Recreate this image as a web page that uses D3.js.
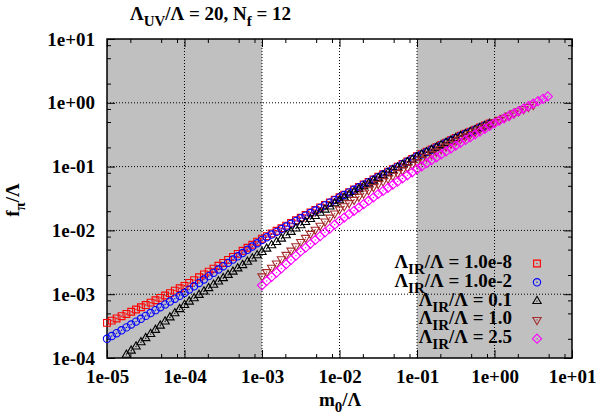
<!DOCTYPE html>
<html>
<head>
<meta charset="utf-8">
<script src="https://cdn.jsdelivr.net/npm/d3@7"></script>
<style>
body { margin: 0; background: #fff; }
svg { display: block; font-family: "Liberation Serif", "Times New Roman", serif; font-weight: bold; }
</style>
</head>
<body>
<svg id="chart" width="597" height="415"></svg>
<script>
// m0/Lambda sample points (16 per decade) shared by all runs
var m0Grid = [
  1.00e-5,1.15e-5,1.33e-5,1.54e-5,1.78e-5,2.05e-5,2.37e-5,2.74e-5,3.16e-5,3.65e-5,4.22e-5,4.87e-5,5.62e-5,6.49e-5,7.50e-5,8.66e-5,
  1.00e-4,1.15e-4,1.33e-4,1.54e-4,1.78e-4,2.05e-4,2.37e-4,2.74e-4,3.16e-4,3.65e-4,4.22e-4,4.87e-4,5.62e-4,6.49e-4,7.50e-4,8.66e-4,
  1.00e-3,1.15e-3,1.33e-3,1.54e-3,1.78e-3,2.05e-3,2.37e-3,2.74e-3,3.16e-3,3.65e-3,4.22e-3,4.87e-3,5.62e-3,6.49e-3,7.50e-3,8.66e-3,
  1.00e-2,1.15e-2,1.33e-2,1.54e-2,1.78e-2,2.05e-2,2.37e-2,2.74e-2,3.16e-2,3.65e-2,4.22e-2,4.87e-2,5.62e-2,6.49e-2,7.50e-2,8.66e-2,
  1.00e-1,1.15e-1,1.33e-1,1.54e-1,1.78e-1,2.05e-1,2.37e-1,2.74e-1,3.16e-1,3.65e-1,4.22e-1,4.87e-1,5.62e-1,6.49e-1,7.50e-1,8.66e-1,
  1.00,1.15,1.33,1.54,1.78,2.05,2.37,2.74,3.16,3.65,4.22,4.87
];

// f_pi/Lambda for each Lambda_IR/Lambda
var fIR1e8 = [
  3.55e-4,3.85e-4,4.17e-4,4.52e-4,4.90e-4,5.31e-4,5.75e-4,6.24e-4,6.76e-4,7.37e-4,
  8.04e-4,8.76e-4,9.55e-4,1.04e-3,1.14e-3,1.24e-3,1.35e-3,1.50e-3,1.66e-3,1.84e-3,
  2.04e-3,2.26e-3,2.51e-3,2.79e-3,3.09e-3,3.45e-3,3.85e-3,4.29e-3,4.79e-3,5.34e-3,
  5.96e-3,6.65e-3,7.41e-3,8.15e-3,8.96e-3,9.86e-3,1.08e-2,1.19e-2,1.31e-2,1.44e-2,
  1.58e-2,1.74e-2,1.91e-2,2.09e-2,2.29e-2,2.51e-2,2.75e-2,3.02e-2,3.31e-2,3.63e-2,
  3.98e-2,4.37e-2,4.79e-2,5.25e-2,5.75e-2,6.31e-2,6.92e-2,7.59e-2,8.32e-2,9.12e-2,
  0.100,0.110,0.120,0.132,0.145,0.157,0.171,0.186,0.202,0.219,
  0.238,0.259,0.282,0.304,0.327,0.353,0.380,0.410,0.442,0.476
];
var fIR1e2 = [
  2.00e-4,2.21e-4,2.45e-4,2.72e-4,3.02e-4,3.35e-4,3.72e-4,4.12e-4,4.57e-4,5.07e-4,
  5.62e-4,6.24e-4,6.92e-4,7.67e-4,8.51e-4,9.44e-4,1.05e-3,1.18e-3,1.33e-3,1.50e-3,
  1.70e-3,1.92e-3,2.16e-3,2.44e-3,2.75e-3,3.10e-3,3.49e-3,3.93e-3,4.42e-3,4.97e-3,
  5.59e-3,6.29e-3,7.08e-3,7.81e-3,8.61e-3,9.49e-3,1.05e-2,1.15e-2,1.27e-2,1.40e-2,
  1.55e-2,1.70e-2,1.87e-2,2.05e-2,2.25e-2,2.47e-2,2.72e-2,2.98e-2,3.27e-2,3.59e-2,
  3.94e-2,4.33e-2,4.74e-2,5.20e-2,5.69e-2,6.25e-2,6.85e-2,7.51e-2,8.24e-2,9.03e-2,
  0.0990,0.109,0.119,0.131,0.144,0.155,0.169,0.184,0.200,0.217,
  0.236,0.256,0.279,0.301,0.324,0.349,0.376,0.406,0.438,0.471
];
var fIR01 = [
  1.12e-4,1.30e-4,1.51e-4,1.76e-4,2.04e-4,2.37e-4,2.75e-4,3.20e-4,3.72e-4,4.32e-4,
  5.01e-4,5.82e-4,6.76e-4,7.63e-4,8.61e-4,9.72e-4,1.10e-3,1.24e-3,1.40e-3,1.58e-3,
  1.78e-3,2.00e-3,2.25e-3,2.53e-3,2.85e-3,3.21e-3,3.61e-3,4.06e-3,4.57e-3,5.16e-3,
  5.82e-3,6.57e-3,7.41e-3,8.36e-3,9.44e-3,1.07e-2,1.20e-2,1.35e-2,1.50e-2,1.68e-2,
  1.88e-2,2.11e-2,2.36e-2,2.64e-2,2.95e-2,3.26e-2,3.61e-2,3.99e-2,4.42e-2,4.88e-2,
  5.40e-2,5.97e-2,6.61e-2,7.26e-2,7.99e-2,8.78e-2,9.66e-2,0.106,0.117,0.128,
  0.141,0.154,0.167,0.182,0.198,0.216,0.235,0.256,0.279,0.300,
  0.323,0.348,0.374,0.403,0.434,0.467
];
var fIR10 = [
  1.91e-3,2.23e-3,2.60e-3,3.04e-3,3.55e-3,4.15e-3,4.84e-3,5.65e-3,6.61e-3,7.65e-3,
  8.86e-3,1.03e-2,1.19e-2,1.38e-2,1.59e-2,1.85e-2,2.14e-2,2.40e-2,2.69e-2,3.02e-2,
  3.39e-2,3.80e-2,4.27e-2,4.79e-2,5.37e-2,5.92e-2,6.53e-2,7.20e-2,7.94e-2,8.76e-2,
  9.66e-2,0.107,0.117,0.129,0.142,0.156,0.172,0.189,0.208,0.229,
  0.251,0.274,0.299,0.325,0.355,0.387,0.422,0.460,0.501,0.542,
  0.585,0.633,0.684,0.739,0.799,0.863,0.933
];
var fIR25 = [
  1.38e-3,1.61e-3,1.87e-3,2.18e-3,2.54e-3,2.96e-3,3.45e-3,4.02e-3,4.68e-3,5.37e-3,
  6.17e-3,7.08e-3,8.13e-3,9.33e-3,1.07e-2,1.23e-2,1.41e-2,1.59e-2,1.80e-2,2.03e-2,
  2.29e-2,2.58e-2,2.92e-2,3.29e-2,3.72e-2,4.16e-2,4.65e-2,5.20e-2,5.82e-2,6.51e-2,
  7.29e-2,8.15e-2,9.12e-2,0.101,0.113,0.126,0.140,0.155,0.173,0.192,
  0.214,0.236,0.262,0.289,0.320,0.354,0.391,0.433,0.479,0.523,
  0.571,0.623,0.681,0.743,0.811,0.886,0.967,1.06,1.15,1.26
];
// index into m0Grid where each run starts
var seriesStart = [0, 0, 4, 32, 32];
var legendLabels = ['1.0e-8', '1.0e-2', '0.1', '1.0', '2.5'];

var xTicks = [1e-5, 1e-4, 1e-3, 1e-2, 1e-1, 1, 10];
var xTickLabels = ['1e-05', '1e-04', '1e-03', '1e-02', '1e-01', '1e+00', '1e+01'];
var yTicks = [1e-4, 1e-3, 1e-2, 1e-1, 1, 10];
var yTickLabels = ['1e-04', '1e-03', '1e-02', '1e-01', '1e+00', '1e+01'];
var minorMantissas = [2, 5, 8];
var shadedBands = [[1e-5, 1e-3], [1e-1, 10]];

var svg = d3.select('#chart');
var pLeft = 107, pRight = 572, pTop = 39, pBottom = 358;

var x = d3.scaleLog().domain([1e-5, 10]).range([pLeft, pRight]);
var y = d3.scaleLog().domain([1e-4, 10]).range([pBottom, pTop]);

function minorsOf(majors) {
    var out = [];
    majors.slice(0, -1).forEach(function(m){
        minorMantissas.forEach(function(k){ out.push(m * k); });
    });
    return out;
}

// shaded regions
svg.selectAll('rect.band')
    .data(shadedBands)
    .enter()
    .append('rect')
        .attr('class', 'band')
        .attr('x', function(d){ return x(d[0]); })
        .attr('y', pTop)
        .attr('width', function(d){ return x(d[1]) - x(d[0]); })
        .attr('height', pBottom - pTop)
        .attr('fill', '#c0c0c0');

// dotted grid
var grid = svg.append('g').attr('stroke', '#000').attr('stroke-width', 1).attr('stroke-dasharray', '1,2');
xTicks.slice(1, -1).forEach(function(t){
    grid.append('line').attr('x1', x(t)).attr('x2', x(t)).attr('y1', pTop).attr('y2', pBottom);
});
yTicks.slice(1, -1).forEach(function(t){
    grid.append('line').attr('x1', pLeft).attr('x2', pRight).attr('y1', y(t)).attr('y2', y(t));
});

// axes (inward ticks on all sides)
function styleAxis(g) {
    g.attr('font-family', null).attr('font-size', null);
    g.select('.domain').remove();
    g.selectAll('line').attr('stroke', '#000').attr('stroke-width', 1);
    g.selectAll('text').attr('fill', '#000').style('font-size', '19px');
}

svg.append('g')
    .attr('transform', 'translate(0,' + pBottom + ')')
    .call(d3.axisBottom(x).tickValues(xTicks).tickFormat(function(d, i){ return xTickLabels[i]; })
        .tickSizeInner(-8).tickSizeOuter(0).tickPadding(12))
    .call(styleAxis);
svg.append('g')
    .attr('transform', 'translate(0,' + pBottom + ')')
    .call(d3.axisBottom(x).tickValues(minorsOf(xTicks)).tickFormat('').tickSizeInner(-4).tickSizeOuter(0))
    .call(styleAxis);
svg.append('g')
    .attr('transform', 'translate(0,' + pTop + ')')
    .call(d3.axisTop(x).tickValues(xTicks).tickFormat('').tickSizeInner(-8).tickSizeOuter(0))
    .call(styleAxis);
svg.append('g')
    .attr('transform', 'translate(0,' + pTop + ')')
    .call(d3.axisTop(x).tickValues(minorsOf(xTicks)).tickFormat('').tickSizeInner(-4).tickSizeOuter(0))
    .call(styleAxis);

svg.append('g')
    .attr('transform', 'translate(' + pLeft + ',0)')
    .call(d3.axisLeft(y).tickValues(yTicks).tickFormat(function(d, i){ return yTickLabels[i]; })
        .tickSizeInner(-8).tickSizeOuter(0).tickPadding(12))
    .call(styleAxis);
svg.append('g')
    .attr('transform', 'translate(' + pLeft + ',0)')
    .call(d3.axisLeft(y).tickValues(minorsOf(yTicks)).tickFormat('').tickSizeInner(-4).tickSizeOuter(0))
    .call(styleAxis);
svg.append('g')
    .attr('transform', 'translate(' + pRight + ',0)')
    .call(d3.axisRight(y).tickValues(yTicks).tickFormat('').tickSizeInner(-8).tickSizeOuter(0))
    .call(styleAxis);
svg.append('g')
    .attr('transform', 'translate(' + pRight + ',0)')
    .call(d3.axisRight(y).tickValues(minorsOf(yTicks)).tickFormat('').tickSizeInner(-4).tickSizeOuter(0))
    .call(styleAxis);

svg.append('rect')
    .attr('x', pLeft).attr('y', pTop)
    .attr('width', pRight - pLeft).attr('height', pBottom - pTop)
    .attr('fill', 'none').attr('stroke', '#000').attr('stroke-width', 1.5);

// data series
var series = [
    { f: fIR1e8, color: '#ff0000', type: d3.symbolSquare, size: 46, rot: 0 },
    { f: fIR1e2, color: '#0000ff', type: d3.symbolCircle, size: 42, rot: 0 },
    { f: fIR01,  color: '#000000', type: d3.symbolTriangle, size: 30, rot: 0 },
    { f: fIR10,  color: '#a52a2a', type: d3.symbolTriangle, size: 30, rot: 180 },
    { f: fIR25,  color: '#ff00ff', type: d3.symbolSquare, size: 42, rot: 45 }
];

function drawMarker(g, s, cx, cy) {
    g.append('path')
        .attr('d', d3.symbol().type(s.type).size(s.size)())
        .attr('transform', 'translate(' + cx + ',' + cy + ') rotate(' + s.rot + ')')
        .attr('fill', 'none')
        .attr('stroke', s.color)
        .attr('stroke-width', 1.1);
    g.append('circle')
        .attr('cx', cx).attr('cy', cy).attr('r', 0.7)
        .attr('fill', s.color);
}

series.forEach(function(s, si){
    var g = svg.append('g');
    s.f.forEach(function(v, i){
        drawMarker(g, s, x(m0Grid[seriesStart[si] + i]), y(v));
    });
});

// legend
var legend = svg.append('g');
series.forEach(function(s, i){
    var base = 268 + i * 18.8;
    var t = legend.append('text')
        .attr('x', 512).attr('y', base)
        .attr('text-anchor', 'end')
        .style('font-size', '19px');
    t.append('tspan').text('\u039B');
    t.append('tspan').attr('dy', 6).style('font-size', '15px').text('IR');
    t.append('tspan').attr('dy', -6).text('/\u039B = ' + legendLabels[i]);
    drawMarker(legend, s, 537, base - 4.5);
});

// title
var title = svg.append('text').attr('x', 130).attr('y', 20).style('font-size', '19px');
title.append('tspan').text('\u039B');
title.append('tspan').attr('dy', 6).style('font-size', '15px').text('UV');
title.append('tspan').attr('dy', -6).text('/\u039B = 20, N');
title.append('tspan').attr('dy', 6).style('font-size', '15px').text('f');
title.append('tspan').attr('dy', -6).text(' = 12');

// axis titles
var xt = svg.append('text').attr('x', 340).attr('y', 406).attr('text-anchor', 'middle').style('font-size', '19px');
xt.append('tspan').text('m');
xt.append('tspan').attr('dy', 6).style('font-size', '15px').text('0');
xt.append('tspan').attr('dy', -6).text('/\u039B');

var yt = svg.append('text')
    .attr('transform', 'translate(19,200) rotate(-90)')
    .attr('text-anchor', 'middle')
    .style('font-size', '19px');
yt.append('tspan').text('f');
yt.append('tspan').attr('dy', 6).style('font-size', '15px').text('\u03C0');
yt.append('tspan').attr('dy', -6).text('/\u039B');
</script>
</body>
</html>
